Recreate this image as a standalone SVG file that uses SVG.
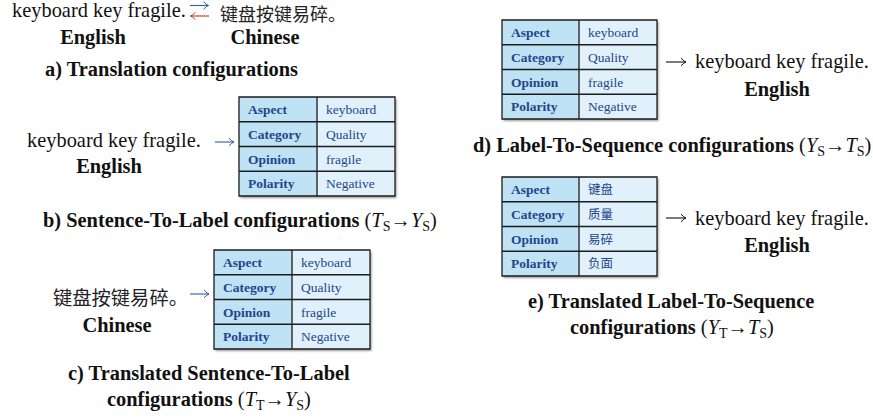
<svg xmlns="http://www.w3.org/2000/svg" width="873" height="418" viewBox="0 0 873 418">
<style>
.t{font-family:"Liberation Serif","Times New Roman",serif;font-size:20.4px;fill:#111}
.b{font-weight:bold}
.m{font-weight:normal}
.i{font-style:italic}
.zh{font-family:"Noto Sans CJK SC",sans-serif;fill:#222}
.lab{font-family:"Liberation Serif",serif;font-size:13.5px;font-weight:bold;fill:#23468c}
.val{font-family:"Liberation Serif",serif;font-size:13.5px;fill:#23468c}
.vzh{font-family:"Noto Sans CJK SC",sans-serif;font-size:12.5px;fill:#23468c}
.lc{fill:#bfe2f4}
.rc{fill:#e0f1fb}
.grid{fill:none;stroke:#1c1c1c;stroke-width:1.3}
.ar{fill:none;stroke-width:1.1}
</style>
<defs>
<filter id="sh" x="-5%" y="-5%" width="115%" height="120%">
<feDropShadow dx="1.5" dy="2" stdDeviation="1.2" flood-color="#444" flood-opacity="0.55"/>
</filter>
<marker id="hk" viewBox="-6 -5 8 10" markerWidth="8" markerHeight="10" refX="0" refY="0" orient="auto" markerUnits="userSpaceOnUse"><path d="M-5,-3.8 Q-2,-0.6 0,0 Q-2,0.6 -5,3.8" fill="none" stroke="#111" stroke-width="1"/></marker>
<marker id="hb" viewBox="-6 -5 8 10" markerWidth="8" markerHeight="10" refX="0" refY="0" orient="auto" markerUnits="userSpaceOnUse"><path d="M-5,-3.8 Q-2,-0.6 0,0 Q-2,0.6 -5,3.8" fill="none" stroke="#2e5ea8" stroke-width="1"/></marker>
<marker id="hr" viewBox="-6 -5 8 10" markerWidth="8" markerHeight="10" refX="0" refY="0" orient="auto" markerUnits="userSpaceOnUse"><path d="M-5,-3.8 Q-2,-0.6 0,0 Q-2,0.6 -5,3.8" fill="none" stroke="#c0392b" stroke-width="1"/></marker>
</defs>

<!-- a) Translation -->
<g id="a-english">
<text class="t" x="12" y="17">keyboard key fragile.</text>
<text class="t b" x="93" y="44" text-anchor="middle">English</text>
</g>
<g id="a-chinese">
<text class="zh" x="220" y="21" font-size="18">键盘按键易碎。</text>
<text class="t b" x="265" y="44" text-anchor="middle">Chinese</text>
</g>
<text class="t b" x="45" y="76">a) Translation configurations</text>

<!-- b) Sentence-To-Label -->
<g id="b-english">
<text class="t" x="27" y="147">keyboard key fragile.</text>
<text class="t b" x="109" y="173" text-anchor="middle">English</text>
</g>
<g id="b-table" transform="translate(239,97)">
<g filter="url(#sh)"><rect class="lc" x="0" y="0" width="78" height="99"/><rect class="rc" x="78" y="0" width="78" height="99"/></g>
<path class="grid" d="M0,0H156V99H0Z M78,0V99 M0,24.75H156 M0,49.5H156 M0,74.25H156"/>
<text class="lab" x="9" y="17">Aspect</text><text class="val" x="87" y="17">keyboard</text>
<text class="lab" x="9" y="41.8">Category</text><text class="val" x="87" y="41.8">Quality</text>
<text class="lab" x="9" y="66.5">Opinion</text><text class="val" x="87" y="66.5">fragile</text>
<text class="lab" x="9" y="91.3">Polarity</text><text class="val" x="87" y="91.3">Negative</text>
</g>
<text class="t b" x="43" y="227">b) Sentence-To-Label configurations <tspan class="m">(</tspan><tspan class="m i">T</tspan><tspan class="m" font-size="14" dy="4">S</tspan><tspan class="m" dy="-4">→</tspan><tspan class="m i">Y</tspan><tspan class="m" font-size="14" dy="4">S</tspan><tspan class="m" dy="-4">)</tspan></text>

<!-- c) Translated Sentence-To-Label -->
<g id="c-chinese">
<text class="zh" x="53" y="305" font-size="19.3">键盘按键易碎。</text>
<text class="t b" x="117" y="332" text-anchor="middle">Chinese</text>
</g>
<g id="c-table" transform="translate(214,250)">
<g filter="url(#sh)"><rect class="lc" x="0" y="0" width="78" height="99"/><rect class="rc" x="78" y="0" width="78" height="99"/></g>
<path class="grid" d="M0,0H156V99H0Z M78,0V99 M0,24.75H156 M0,49.5H156 M0,74.25H156"/>
<text class="lab" x="9" y="17">Aspect</text><text class="val" x="87" y="17">keyboard</text>
<text class="lab" x="9" y="41.8">Category</text><text class="val" x="87" y="41.8">Quality</text>
<text class="lab" x="9" y="66.5">Opinion</text><text class="val" x="87" y="66.5">fragile</text>
<text class="lab" x="9" y="91.3">Polarity</text><text class="val" x="87" y="91.3">Negative</text>
</g>
<text class="t b" x="68" y="380">c) Translated Sentence-To-Label</text>
<text class="t b" x="107" y="406">configurations <tspan class="m">(</tspan><tspan class="m i">T</tspan><tspan class="m" font-size="14" dy="4">T</tspan><tspan class="m" dy="-4">→</tspan><tspan class="m i">Y</tspan><tspan class="m" font-size="14" dy="4">S</tspan><tspan class="m" dy="-4">)</tspan></text>

<!-- d) Label-To-Sequence -->
<g id="d-table" transform="translate(502,20)">
<g filter="url(#sh)"><rect class="lc" x="0" y="0" width="77" height="99"/><rect class="rc" x="77" y="0" width="78" height="99"/></g>
<path class="grid" d="M0,0H155V99H0Z M77,0V99 M0,24.75H155 M0,49.5H155 M0,74.25H155"/>
<text class="lab" x="9" y="17">Aspect</text><text class="val" x="86" y="17">keyboard</text>
<text class="lab" x="9" y="41.8">Category</text><text class="val" x="86" y="41.8">Quality</text>
<text class="lab" x="9" y="66.5">Opinion</text><text class="val" x="86" y="66.5">fragile</text>
<text class="lab" x="9" y="91.3">Polarity</text><text class="val" x="86" y="91.3">Negative</text>
</g>
<g id="d-english">
<text class="t" x="695" y="68">keyboard key fragile.</text>
<text class="t b" x="777" y="96" text-anchor="middle">English</text>
</g>
<text class="t b" x="473" y="152">d) Label-To-Sequence configurations <tspan class="m">(</tspan><tspan class="m i">Y</tspan><tspan class="m" font-size="14" dy="4">S</tspan><tspan class="m" dy="-4">→</tspan><tspan class="m i">T</tspan><tspan class="m" font-size="14" dy="4">S</tspan><tspan class="m" dy="-4">)</tspan></text>

<!-- e) Translated Label-To-Sequence -->
<g id="e-table" transform="translate(502,177)">
<g filter="url(#sh)"><rect class="lc" x="0" y="0" width="77" height="99"/><rect class="rc" x="77" y="0" width="78" height="99"/></g>
<path class="grid" d="M0,0H155V99H0Z M77,0V99 M0,24.75H155 M0,49.5H155 M0,74.25H155"/>
<text class="lab" x="9" y="17">Aspect</text><text class="vzh" x="86" y="17">键盘</text>
<text class="lab" x="9" y="41.8">Category</text><text class="vzh" x="86" y="41.8">质量</text>
<text class="lab" x="9" y="66.5">Opinion</text><text class="vzh" x="86" y="66.5">易碎</text>
<text class="lab" x="9" y="91.3">Polarity</text><text class="vzh" x="86" y="91.3">负面</text>
</g>
<g id="e-english">
<text class="t" x="695" y="225">keyboard key fragile.</text>
<text class="t b" x="777" y="252" text-anchor="middle">English</text>
</g>
<text class="t b" x="528" y="308">e) Translated Label-To-Sequence</text>
<text class="t b" x="570" y="334">configurations <tspan class="m">(</tspan><tspan class="m i">Y</tspan><tspan class="m" font-size="14" dy="4">T</tspan><tspan class="m" dy="-4">→</tspan><tspan class="m i">T</tspan><tspan class="m" font-size="14" dy="4">S</tspan><tspan class="m" dy="-4">)</tspan></text>

<!-- connectors -->
<g id="connectors">
<path class="ar" stroke="#2e5ea8" d="M190,5.5H208.5" marker-end="url(#hb)"/>
<path class="ar" stroke="#c0392b" d="M209,16H190.5" marker-end="url(#hr)"/>
<path class="ar" stroke="#2e5ea8" d="M215,142H234" marker-end="url(#hb)"/>
<path class="ar" stroke="#2e5ea8" d="M190,294H209" marker-end="url(#hb)"/>
<path class="ar" stroke="#111" d="M666,62H686" marker-end="url(#hk)"/>
<path class="ar" stroke="#111" d="M666,218H686" marker-end="url(#hk)"/>
</g>
</svg>
